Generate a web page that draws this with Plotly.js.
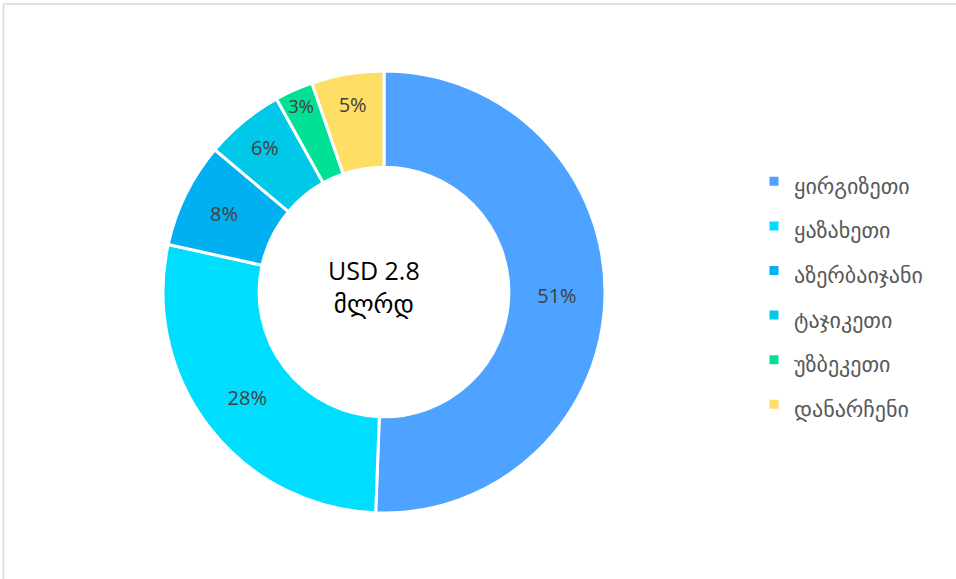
<!DOCTYPE html>
<html>
<head>
<meta charset="utf-8">
<script src="https://cdn.plot.ly/plotly-3.0.1.min.js"></script>
<style>
html,body{margin:0;padding:0;background:#fff;}
#chart{width:956px;height:579px;}
</style>
</head>
<body>
<div id="chart"></div>
<script>
// Data
const categories = ["ყირგიზეთი", "ყაზახეთი", "აზერბაიჯანი", "ტაჯიკეთი", "უზბეკეთი", "დანარჩენი"];
const shares = [50.7, 27.9, 7.7, 5.8, 2.8, 5.3];
const sliceColors = ["#4DA3FF", "#00DEFF", "#00B0F0", "#00C8E8", "#00E096", "#FFDE66"];
const centerText = "USD 2.8<br>მლრდ";

const W = 956, H = 579;
const cx = 384, cy = 292, R = 221;

const trace = {
  type: "pie",
  labels: categories.map(c => "<span style='font-size:22px'>" + c + "</span>"),
  values: shares,
  sort: false,
  direction: "clockwise",
  rotation: 0,
  hole: 0.565,
  marker: {colors: sliceColors, line: {color: "#FFFFFF", width: 3}},
  texttemplate: "%{percent:.0%}",
  textposition: "inside",
  insidetextorientation: "horizontal",
  textfont: {family: "Open Sans, DejaVu Sans, sans-serif", size: 20, color: "#404040"},
  hoverinfo: "label+percent",
  domain: {
    x: [(cx - R) / W, (cx + R) / W],
    y: [(H - cy - R) / H, (H - cy + R) / H]
  }
};

const layout = {
  width: W, height: H,
  margin: {l: 0, r: 0, t: 0, b: 0},
  paper_bgcolor: "#FFFFFF",
  showlegend: true,
  legend: {
    x: 754 / W, xanchor: "left",
    y: (H - 293) / H, yanchor: "middle",
    font: {family: "DejaVu Sans, sans-serif", size: 32, color: "#595959"},
    bgcolor: "rgba(0,0,0,0)"
  },
  annotations: [{
    text: centerText,
    x: 374 / W, y: (H - 286) / H,
    xref: "paper", yref: "paper",
    showarrow: false,
    font: {family: "Open Sans, DejaVu Sans, sans-serif", size: 25, color: "#000000"}
  }],
  shapes: [
    {type: "line", xref: "paper", yref: "paper", x0: 3.5 / W, x1: 3.5 / W, y0: 0, y1: 1 - 4 / H, line: {color: "#D9D9D9", width: 1.5}},
    {type: "line", xref: "paper", yref: "paper", x0: 3.5 / W, x1: 1, y0: 1 - 4 / H, y1: 1 - 4 / H, line: {color: "#D9D9D9", width: 1.5}}
  ]
};

Plotly.newPlot("chart", [trace], layout, {displayModeBar: false, staticPlot: true});
</script>
</body>
</html>
